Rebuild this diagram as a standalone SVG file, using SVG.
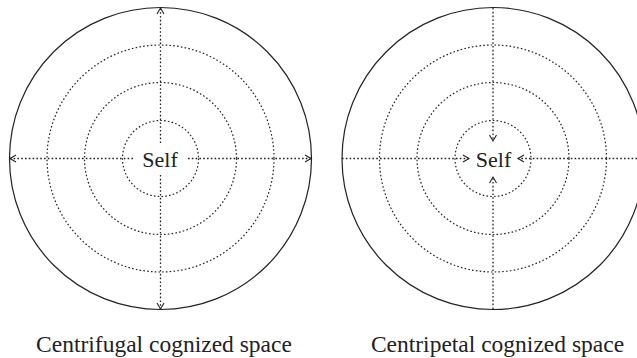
<svg xmlns="http://www.w3.org/2000/svg" width="637" height="358" viewBox="0 0 637 358">
<style>
.outer{fill:none;stroke:#222;stroke-width:1.2}
.ring{fill:none;stroke:#222;stroke-width:1.2;stroke-dasharray:1.6 2.2}
.axis{fill:none;stroke:#222;stroke-width:1.3;stroke-dasharray:1.6 2.2}
text{fill:#222;text-anchor:middle}
.s{font-family:'Liberation Serif','Times New Roman','DejaVu Serif',serif;font-size:22px}
.c{font-family:'Liberation Serif','Times New Roman','DejaVu Serif',serif;font-size:23.5px}
</style>
<defs>
<marker id="chev" markerUnits="userSpaceOnUse" markerWidth="12" markerHeight="12" refX="0" refY="0" viewBox="-7 -6 8 12" orient="auto">
<path d="M-6,-3.5 L0,0 L-6,3.5" fill="none" stroke="#222" stroke-width="1.1" stroke-dasharray="none"/>
</marker>
</defs>
<rect width="637" height="358" fill="#fff"/>
<g id="centrifugal">
<circle class="outer" cx="160.5" cy="158.5" r="151"/>
<circle class="ring" cx="160.5" cy="158.5" r="113.5"/>
<circle class="ring" cx="160.5" cy="158.5" r="76"/>
<circle class="ring" cx="160.5" cy="158.5" r="38"/>
<text class="s" x="160" y="166.5">Self</text>
<text class="c" x="164" y="351.5">Centrifugal cognized space</text>
</g>
<g id="centripetal">
<circle class="outer" cx="493" cy="158.5" r="151"/>
<circle class="ring" cx="493" cy="158.5" r="113.5"/>
<circle class="ring" cx="493" cy="158.5" r="76"/>
<circle class="ring" cx="493" cy="158.5" r="38"/>
<text class="s" x="493.5" y="166.5">Self</text>
<text class="c" x="497.5" y="351.5">Centripetal cognized space</text>
</g>
<g id="connectors">
<line class="axis" x1="133" y1="158.5" x2="10" y2="158.5" marker-end="url(#chev)"/>
<line class="axis" x1="188" y1="158.5" x2="311" y2="158.5" marker-end="url(#chev)"/>
<line class="axis" x1="160.5" y1="143" x2="160.5" y2="8" marker-end="url(#chev)"/>
<line class="axis" x1="160.5" y1="175" x2="160.5" y2="309" marker-end="url(#chev)"/>
<line class="axis" x1="342" y1="158.5" x2="469" y2="158.5" marker-end="url(#chev)"/>
<line class="axis" x1="637" y1="158.5" x2="518" y2="158.5" marker-end="url(#chev)"/>
<line class="axis" x1="493" y1="8" x2="493" y2="141" marker-end="url(#chev)"/>
<line class="axis" x1="493" y1="309" x2="493" y2="177" marker-end="url(#chev)"/>
</g>
</svg>
